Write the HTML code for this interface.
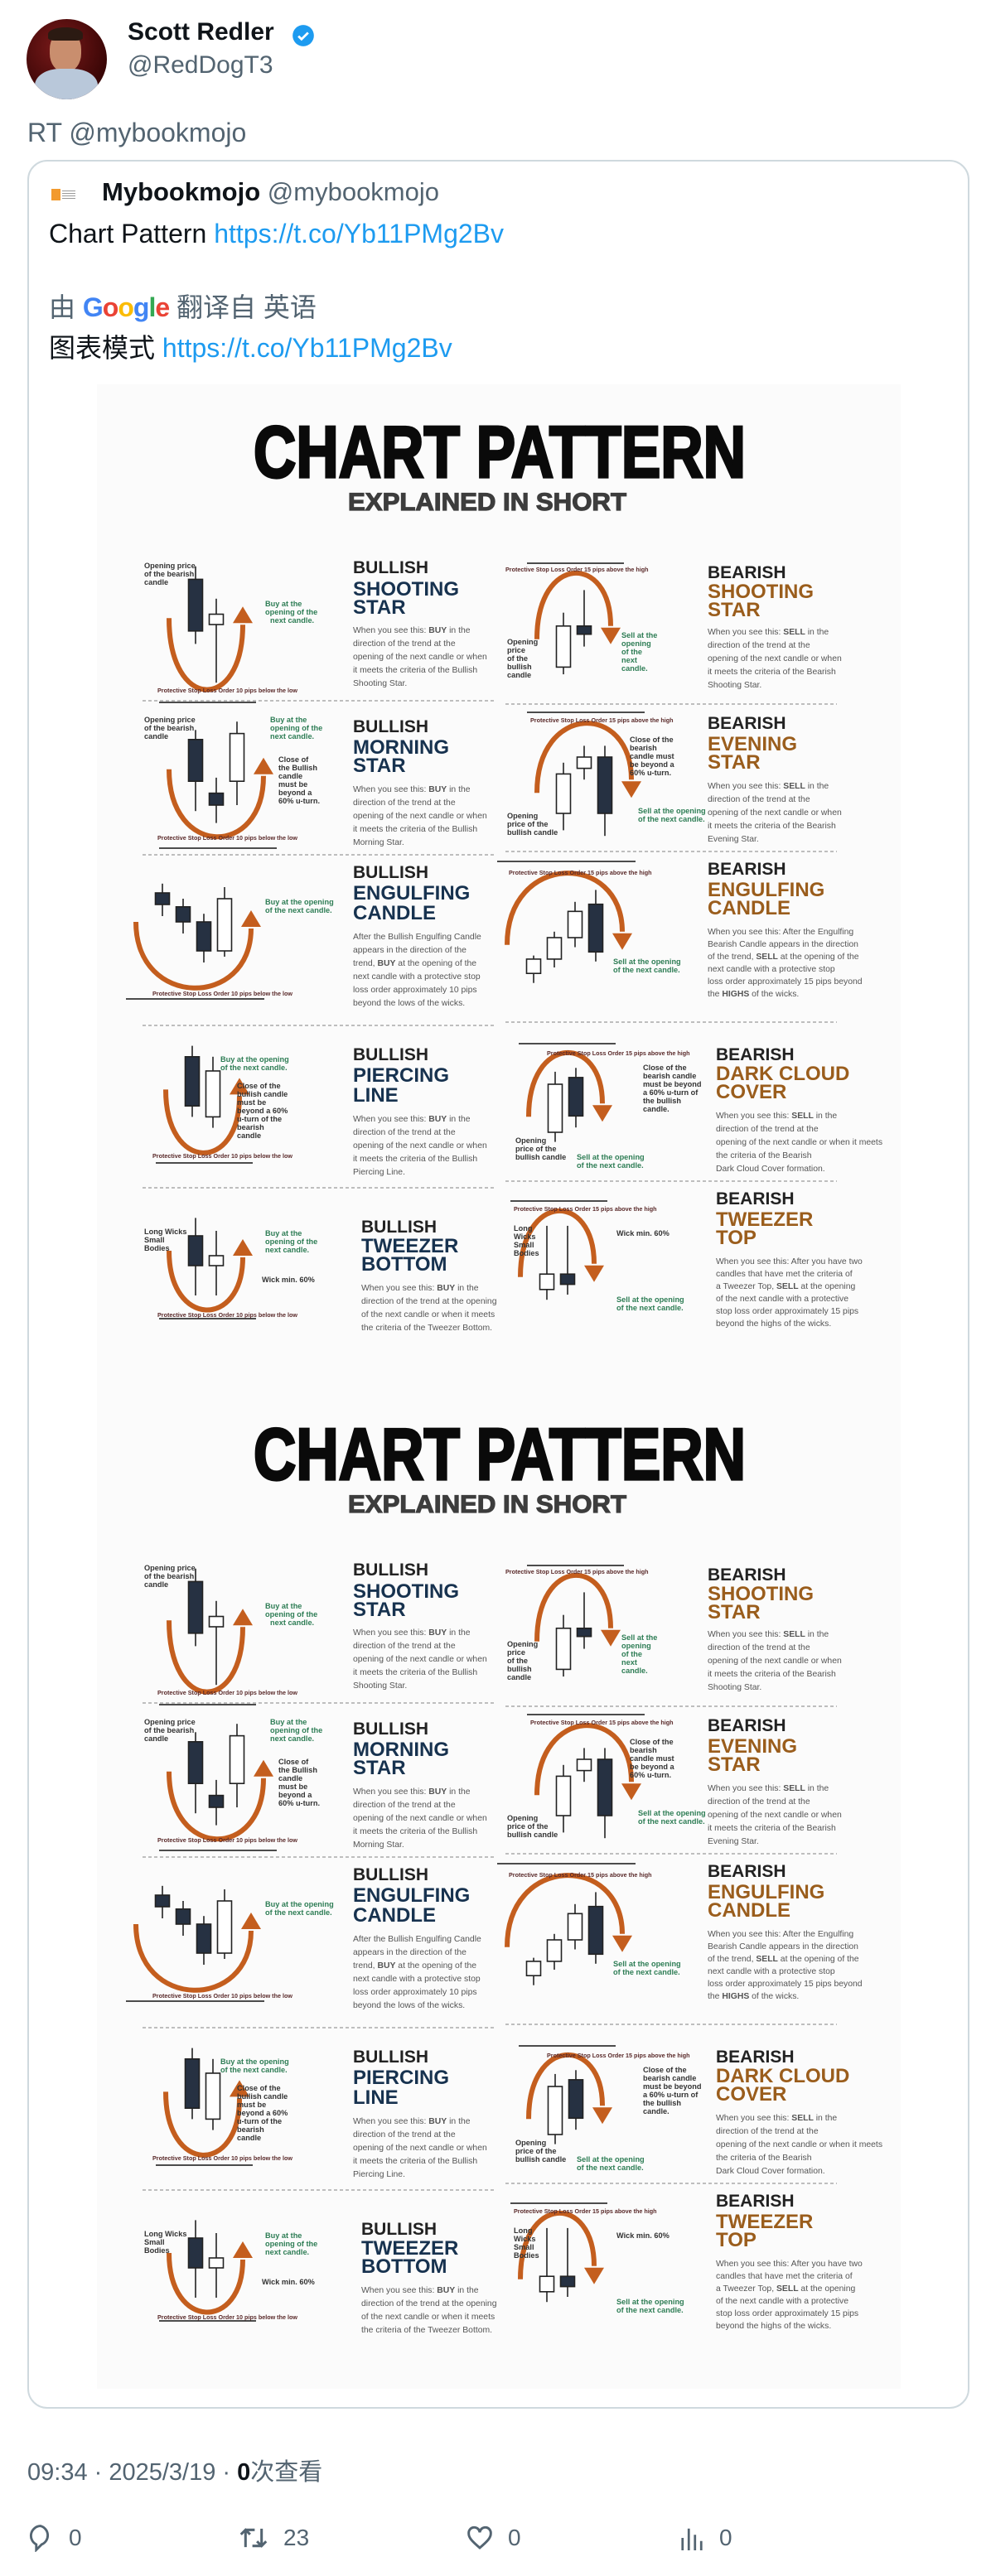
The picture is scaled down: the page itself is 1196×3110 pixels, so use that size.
<!DOCTYPE html>
<html>
<head>
<meta charset="utf-8">
<style>
html,body{margin:0;padding:0;background:#fff;}
body{width:1196px;height:3110px;position:relative;overflow:hidden;font-family:"Liberation Sans","Noto Sans CJK SC",sans-serif;}
.abs{position:absolute;white-space:nowrap;}
.gray{color:#536471;}
.link{color:#1d9bf0;}
.h{font:bold 10.5px "Liberation Sans",sans-serif;fill:#222;}
.tb{font:bold 12px "Liberation Sans",sans-serif;fill:#17324f;}
.tr{font:bold 12px "Liberation Sans",sans-serif;fill:#9a5d1c;}
.bd{font:5.2px "Liberation Sans",sans-serif;fill:#555;}
.lb{font:bold 4.6px "Liberation Sans",sans-serif;fill:#333;}
.lg{font:bold 4.6px "Liberation Sans",sans-serif;fill:#2e7d55;}
.ls{font:bold 3.6px "Liberation Sans",sans-serif;fill:#5a2a2a;}
.dash{stroke:#aaa;stroke-width:0.8;stroke-dasharray:2 1.5;}
</style>
</head>
<body>
<div class="abs" style="left:32px;top:23px;width:97px;height:97px;border-radius:50%;overflow:hidden;background:radial-gradient(circle at 40% 35%,#7a1a1a,#3a0606 70%);">
  <div style="position:absolute;left:28px;top:14px;width:38px;height:50px;border-radius:45%;background:#c98e6e;"></div>
  <div style="position:absolute;left:26px;top:10px;width:42px;height:16px;border-radius:50% 50% 20% 20%;background:#2b1a12;"></div>
  <div style="position:absolute;left:10px;top:60px;width:76px;height:50px;border-radius:40% 40% 0 0;background:#b9c8da;"></div>
</div>
<div class="abs" style="left:154px;top:22px;font-size:30px;font-weight:bold;color:#0f1419;">Scott Redler</div>
<svg class="abs" style="left:352px;top:29px" width="28" height="28" viewBox="0 0 24 24"><circle cx="12" cy="12" r="11" fill="#1d9bf0"/><path d="M7 12.5l3.2 3.2L17 9" stroke="#fff" stroke-width="2.4" fill="none"/></svg>
<div class="abs gray" style="left:154px;top:62px;font-size:30px;">@RedDogT3</div>
<div class="abs gray" style="left:33px;top:142px;font-size:32px;">RT @mybookmojo</div>

<div class="abs" style="left:33px;top:193px;width:1133px;height:2711px;border:2px solid #cfd9de;border-radius:24px;"></div>
<div class="abs" style="left:62px;top:228px;width:31px;height:14px;">
  <div style="position:absolute;left:0;top:0;width:11px;height:14px;background:#f29a2e;"></div>
  <div style="position:absolute;left:13px;top:2px;width:16px;height:10px;background:repeating-linear-gradient(#999 0 1px,#fff 1px 3px);"></div>
</div>
<div class="abs" style="left:123px;top:214px;font-size:31px;"><b style="color:#0f1419">Mybookmojo</b> <span class="gray">@mybookmojo</span></div>
<div class="abs" style="left:59px;top:264px;font-size:32px;color:#0f1419;">Chart Pattern <span class="link">https://t.co/Yb11PMg2Bv</span></div>
<div class="abs gray" style="left:59px;top:346px;font-size:32px;">由 <span style="font-weight:bold;letter-spacing:-1px"><span style="color:#4285f4">G</span><span style="color:#ea4335">o</span><span style="color:#fbbc05">o</span><span style="color:#4285f4">g</span><span style="color:#34a853">l</span><span style="color:#ea4335">e</span></span> 翻译自 英语</div>
<div class="abs" style="left:59px;top:395px;font-size:32px;color:#0f1419;">图表模式 <span class="link">https://t.co/Yb11PMg2Bv</span></div>

<div id="info1" class="abs" style="left:117px;top:464px;width:970px;height:1210px;background:#fbfbfb;">
<svg id="infosvg" width="970" height="1210" viewBox="58.5 232 485 605">
 <text x="153" y="288" textLength="297" lengthAdjust="spacingAndGlyphs" style="font:bold 44px 'Liberation Sans',sans-serif;fill:#0a0a0a;stroke:#0a0a0a;stroke-width:1.6">CHART PATTERN</text>
 <text x="210" y="308" textLength="168" lengthAdjust="spacingAndGlyphs" style="font:bold 15px 'Liberation Sans',sans-serif;fill:#3d3d3d;stroke:#3d3d3d;stroke-width:0.6">EXPLAINED IN SHORT</text>

 <g id="diagrams"></g>

 <line class="dash" x1="86" y1="423" x2="298" y2="423"/>
 <line class="dash" x1="86" y1="516" x2="298" y2="516"/>
 <line class="dash" x1="86" y1="619" x2="298" y2="619"/>
 <line class="dash" x1="86" y1="717" x2="298" y2="717"/>
 <line class="dash" x1="305" y1="425" x2="505" y2="425"/>
 <line class="dash" x1="305" y1="514" x2="505" y2="514"/>
 <line class="dash" x1="305" y1="617" x2="505" y2="617"/>
 <line class="dash" x1="305" y1="713" x2="505" y2="713"/>

 <g>
 <text class="h" x="213" y="346">BULLISH</text>
 <text class="tb" x="213" y="359.5">SHOOTING</text><text class="tb" x="213" y="370.5">STAR</text>
 <text class="bd" x="213" y="382">When you see this: <tspan font-weight="bold">BUY</tspan> in the</text>
 <text class="bd" x="213" y="390">direction of the trend at the</text>
 <text class="bd" x="213" y="398">opening of the next candle or when</text>
 <text class="bd" x="213" y="406">it meets the criteria of the Bullish</text>
 <text class="bd" x="213" y="414">Shooting Star.</text>
 </g>
 <g>
 <text class="h" x="427" y="349">BEARISH</text>
 <text class="tr" x="427" y="361">SHOOTING</text><text class="tr" x="427" y="372">STAR</text>
 <text class="bd" x="427" y="383">When you see this: <tspan font-weight="bold">SELL</tspan> in the</text>
 <text class="bd" x="427" y="391">direction of the trend at the</text>
 <text class="bd" x="427" y="399">opening of the next candle or when</text>
 <text class="bd" x="427" y="407">it meets the criteria of the Bearish</text>
 <text class="bd" x="427" y="415">Shooting Star.</text>
 </g>
 <g>
 <text class="h" x="213" y="442">BULLISH</text>
 <text class="tb" x="213" y="455">MORNING</text><text class="tb" x="213" y="466">STAR</text>
 <text class="bd" x="213" y="478">When you see this: <tspan font-weight="bold">BUY</tspan> in the</text>
 <text class="bd" x="213" y="486">direction of the trend at the</text>
 <text class="bd" x="213" y="494">opening of the next candle or when</text>
 <text class="bd" x="213" y="502">it meets the criteria of the Bullish</text>
 <text class="bd" x="213" y="510">Morning Star.</text>
 </g>
 <g>
 <text class="h" x="427" y="440">BEARISH</text>
 <text class="tr" x="427" y="453">EVENING</text><text class="tr" x="427" y="464">STAR</text>
 <text class="bd" x="427" y="476">When you see this: <tspan font-weight="bold">SELL</tspan> in the</text>
 <text class="bd" x="427" y="484">direction of the trend at the</text>
 <text class="bd" x="427" y="492">opening of the next candle or when</text>
 <text class="bd" x="427" y="500">it meets the criteria of the Bearish</text>
 <text class="bd" x="427" y="508">Evening Star.</text>
 </g>
 <g>
 <text class="h" x="213" y="530">BULLISH</text>
 <text class="tb" x="213" y="543">ENGULFING</text><text class="tb" x="213" y="555">CANDLE</text>
 <text class="bd" x="213" y="567">After the Bullish Engulfing Candle</text>
 <text class="bd" x="213" y="575">appears in the direction of the</text>
 <text class="bd" x="213" y="583">trend, <tspan font-weight="bold">BUY</tspan> at the opening of the</text>
 <text class="bd" x="213" y="591">next candle with a protective stop</text>
 <text class="bd" x="213" y="599">loss order approximately 10 pips</text>
 <text class="bd" x="213" y="607">beyond the lows of the wicks.</text>
 </g>
 <g>
 <text class="h" x="427" y="528">BEARISH</text>
 <text class="tr" x="427" y="541">ENGULFING</text><text class="tr" x="427" y="552">CANDLE</text>
 <text class="bd" x="427" y="564">When you see this: After the Engulfing</text>
 <text class="bd" x="427" y="571.5">Bearish Candle appears in the direction</text>
 <text class="bd" x="427" y="579">of the trend, <tspan font-weight="bold">SELL</tspan> at the opening of the</text>
 <text class="bd" x="427" y="586.5">next candle with a protective stop</text>
 <text class="bd" x="427" y="594">loss order approximately 15 pips beyond</text>
 <text class="bd" x="427" y="601.5">the <tspan font-weight="bold">HIGHS</tspan> of the wicks.</text>
 </g>
 <g>
 <text class="h" x="213" y="640">BULLISH</text>
 <text class="tb" x="213" y="653">PIERCING</text><text class="tb" x="213" y="665">LINE</text>
 <text class="bd" x="213" y="677">When you see this: <tspan font-weight="bold">BUY</tspan> in the</text>
 <text class="bd" x="213" y="685">direction of the trend at the</text>
 <text class="bd" x="213" y="693">opening of the next candle or when</text>
 <text class="bd" x="213" y="701">it meets the criteria of the Bullish</text>
 <text class="bd" x="213" y="709">Piercing Line.</text>
 </g>
 <g>
 <text class="h" x="432" y="640">BEARISH</text>
 <text class="tr" x="432" y="652">DARK CLOUD</text><text class="tr" x="432" y="663">COVER</text>
 <text class="bd" x="432" y="675">When you see this: <tspan font-weight="bold">SELL</tspan> in the</text>
 <text class="bd" x="432" y="683">direction of the trend at the</text>
 <text class="bd" x="432" y="691">opening of the next candle or when it meets</text>
 <text class="bd" x="432" y="699">the criteria of the Bearish</text>
 <text class="bd" x="432" y="707">Dark Cloud Cover formation.</text>
 </g>
 <g>
 <text class="h" x="218" y="744">BULLISH</text>
 <text class="tb" x="218" y="756">TWEEZER</text><text class="tb" x="218" y="767">BOTTOM</text>
 <text class="bd" x="218" y="779">When you see this: <tspan font-weight="bold">BUY</tspan> in the</text>
 <text class="bd" x="218" y="787">direction of the trend at the opening</text>
 <text class="bd" x="218" y="795">of the next candle or when it meets</text>
 <text class="bd" x="218" y="803">the criteria of the Tweezer Bottom.</text>
 </g>
 <g>
 <text class="h" x="432" y="727">BEARISH</text>
 <text class="tr" x="432" y="740">TWEEZER</text><text class="tr" x="432" y="751">TOP</text>
 <text class="bd" x="432" y="763">When you see this: After you have two</text>
 <text class="bd" x="432" y="770.5">candles that have met the criteria of</text>
 <text class="bd" x="432" y="778">a Tweezer Top, <tspan font-weight="bold">SELL</tspan> at the opening</text>
 <text class="bd" x="432" y="785.5">of the next candle with a protective</text>
 <text class="bd" x="432" y="793">stop loss order approximately 15 pips</text>
 <text class="bd" x="432" y="800.5">beyond the highs of the wicks.</text>
 </g>

 <g>
 <text class="lb" x="87" y="343">Opening price</text><text class="lb" x="87" y="348">of the bearish</text><text class="lb" x="87" y="353">candle</text>
 <text class="lg" x="160" y="366">Buy at the</text><text class="lg" x="160" y="371">opening of the</text><text class="lg" x="163" y="376">next candle.</text>
 <text class="ls" x="95" y="418">Protective Stop Loss Order 10 pips below the low</text>
 <text class="ls" x="305" y="345">Protective Stop Loss Order 15 pips above the high</text>
 <text class="lb" x="306" y="389">Opening</text><text class="lb" x="306" y="394">price</text><text class="lb" x="306" y="399">of the</text><text class="lb" x="306" y="404">bullish</text><text class="lb" x="306" y="409">candle</text>
 <text class="lg" x="375" y="385">Sell at the</text><text class="lg" x="375" y="390">opening</text><text class="lg" x="375" y="395">of the</text><text class="lg" x="375" y="400">next</text><text class="lg" x="375" y="405">candle.</text>

 <text class="lb" x="87" y="436">Opening price</text><text class="lb" x="87" y="441">of the bearish</text><text class="lb" x="87" y="446">candle</text>
 <text class="lg" x="163" y="436">Buy at the</text><text class="lg" x="163" y="441">opening of the</text><text class="lg" x="163" y="446">next candle.</text>
 <text class="lb" x="168" y="460">Close of</text><text class="lb" x="168" y="465">the Bullish</text><text class="lb" x="168" y="470">candle</text><text class="lb" x="168" y="475">must be</text><text class="lb" x="168" y="480">beyond a</text><text class="lb" x="168" y="485">60% u-turn.</text>
 <text class="ls" x="95" y="507">Protective Stop Loss Order 10 pips below the low</text>
 <text class="ls" x="320" y="436">Protective Stop Loss Order 15 pips above the high</text>
 <text class="lb" x="380" y="448">Close of the</text><text class="lb" x="380" y="453">bearish</text><text class="lb" x="380" y="458">candle must</text><text class="lb" x="380" y="463">be beyond a</text><text class="lb" x="380" y="468">60% u-turn.</text>
 <text class="lb" x="306" y="494">Opening</text><text class="lb" x="306" y="499">price of the</text><text class="lb" x="306" y="504">bullish candle</text>
 <text class="lg" x="385" y="491">Sell at the opening</text><text class="lg" x="385" y="496">of the next candle.</text>

 <text class="lg" x="160" y="546">Buy at the opening</text><text class="lg" x="160" y="551">of the next candle.</text>
 <text class="ls" x="92" y="601">Protective Stop Loss Order 10 pips below the low</text>
 <text class="ls" x="307" y="528">Protective Stop Loss Order 15 pips above the high</text>
 <text class="lg" x="370" y="582">Sell at the opening</text><text class="lg" x="370" y="587">of the next candle.</text>

 <text class="lg" x="133" y="641">Buy at the opening</text><text class="lg" x="133" y="646">of the next candle.</text>
 <text class="lb" x="143" y="657">Close of the</text><text class="lb" x="143" y="662">bullish candle</text><text class="lb" x="143" y="667">must be</text><text class="lb" x="143" y="672">beyond a 60%</text><text class="lb" x="143" y="677">u-turn of the</text><text class="lb" x="143" y="682">bearish</text><text class="lb" x="143" y="687">candle</text>
 <text class="ls" x="92" y="699">Protective Stop Loss Order 10 pips below the low</text>
 <text class="ls" x="330" y="637">Protective Stop Loss Order 15 pips above the high</text>
 <text class="lb" x="388" y="646">Close of the</text><text class="lb" x="388" y="651">bearish candle</text><text class="lb" x="388" y="656">must be beyond</text><text class="lb" x="388" y="661">a 60% u-turn of</text><text class="lb" x="388" y="666">the bullish</text><text class="lb" x="388" y="671">candle.</text>
 <text class="lb" x="311" y="690">Opening</text><text class="lb" x="311" y="695">price of the</text><text class="lb" x="311" y="700">bullish candle</text>
 <text class="lg" x="348" y="700">Sell at the opening</text><text class="lg" x="348" y="705">of the next candle.</text>

 <text class="lb" x="87" y="745">Long Wicks</text><text class="lb" x="87" y="750">Small</text><text class="lb" x="87" y="755">Bodies</text>
 <text class="lg" x="160" y="746">Buy at the</text><text class="lg" x="160" y="751">opening of the</text><text class="lg" x="160" y="756">next candle.</text>
 <text class="lb" x="158" y="774">Wick min. 60%</text>
 <text class="ls" x="95" y="795">Protective Stop Loss Order 10 pips below the low</text>
 <text class="ls" x="310" y="731">Protective Stop Loss Order 15 pips above the high</text>
 <text class="lb" x="310" y="743">Long</text><text class="lb" x="310" y="748">Wicks</text><text class="lb" x="310" y="753">Small</text><text class="lb" x="310" y="758">Bodies</text>
 <text class="lb" x="372" y="746">Wick min. 60%</text>
 <text class="lg" x="372" y="786">Sell at the opening</text><text class="lg" x="372" y="791">of the next candle.</text>
 </g>
</svg>
</div>
<div id="info2" class="abs" style="left:117px;top:1674px;width:970px;height:1210px;background:#fbfbfb;"></div>

<div class="abs gray" style="left:33px;top:2961px;font-size:29px;">09:34 · 2025/3/19 · <b style="color:#0f1419">0</b>次查看</div>

<div class="abs gray" style="left:33px;top:3047px;font-size:28px;display:flex;align-items:center;gap:18px;">
 <svg width="32" height="34" viewBox="0 0 24 26"><path d="M12 2a9 9 0 0 0-4 17v5l5-5a9 9 0 0 0-1-17z" fill="none" stroke="#536471" stroke-width="2.2"/></svg><span>0</span></div>
<div class="abs gray" style="left:288px;top:3047px;font-size:28px;display:flex;align-items:center;gap:18px;">
 <svg width="36" height="34" viewBox="0 0 26 24"><path d="M6 20V5M2 9l4-4 4 4M6 5h8M20 4v15M16 15l4 4 4-4M20 19h-8" fill="none" stroke="#536471" stroke-width="2.2"/></svg><span>23</span></div>
<div class="abs gray" style="left:563px;top:3047px;font-size:28px;display:flex;align-items:center;gap:18px;">
 <svg width="32" height="34" viewBox="0 0 24 24"><path d="M12 21C5 15 2 12 2 8a5 5 0 0 1 10-1 5 5 0 0 1 10 1c0 4-3 7-10 13z" fill="none" stroke="#536471" stroke-width="2.2"/></svg><span>0</span></div>
<div class="abs gray" style="left:820px;top:3047px;font-size:28px;display:flex;align-items:center;gap:18px;">
 <svg width="30" height="34" viewBox="0 0 24 26"><path d="M3 25V13M9 25V4M15 25V10M21 25V16" stroke="#536471" stroke-width="2.2"/></svg><span>0</span></div>

<script>
// OHLC values (0..100) per pattern
const bullShootingStar = [[85,95,35,45],[50,70,5,58]];
const bearShootingStar = [[15,68,8,55],[55,90,35,47]];
const morningStar = [[80,88,20,45],[35,48,10,25],[45,95,25,85]];
const eveningStar = [[25,70,10,60],[65,85,55,75],[75,85,5,25]];
const bullEngulfing = [[80,88,60,70],[68,75,45,55],[55,62,20,30],[30,85,25,75]];
const bearEngulfing = [[20,35,12,32],[32,55,25,50],[50,80,42,72],[78,90,30,38]];
const piercingLine = [[85,95,30,40],[30,85,20,72]];
const darkCloud = [[25,88,15,75],[82,92,30,42]];
const tweezerBottom = [[70,88,10,40],[40,75,10,50]];
const tweezerTop = [[30,92,20,45],[45,92,25,35]];

const patterns = [bullShootingStar,bearShootingStar,morningStar,eveningStar,bullEngulfing,bearEngulfing,piercingLine,darkCloud,tweezerBottom,tweezerTop];
const patternNames = ['bullish-shooting-star','bearish-shooting-star','morning-star','evening-star','bullish-engulfing','bearish-engulfing','piercing-line','dark-cloud-cover','tweezer-bottom','tweezer-top'];
const boxes = [[118,338,78],[340,350,62],[118,432,72],[340,440,68],[98,525,70],[322,530,72],[116,628,66],[335,640,58],[118,728,60],[330,735,62]];
const bullishFlags = [1,0,1,0,1,0,1,0,1,0];

const NS='http://www.w3.org/2000/svg';
function mk(tag,attrs){const e=document.createElementNS(NS,tag);for(const k in attrs)e.setAttribute(k,attrs[k]);return e;}
const root=document.getElementById('diagrams');
patterns.forEach((cs,pi)=>{
  const [bx,by,bh]=boxes[pi];
  const bull=bullishFlags[pi];
  const g=mk('g',{});
  
  
  const y=v=>by+bh-(v/100)*bh;
  const step=12.5, w=8.5;
  const n=cs.length;
  const cx0=bx, span=(n-1)*step;
  const L=cx0-16, R=cx0+span+16;
  let d, ax, ay, dir;
  if(bull){
    const top=by+bh*0.45, bot=by+bh+4;
    d=`M${L} ${top} C ${L} ${bot+10}, ${R} ${bot+10}, ${R} ${top+4}`;
    ax=R; ay=top-4; dir=-1;
  } else {
    const top=by-6, bot=by+bh*0.45;
    d=`M${L} ${bot+8} C ${L} ${top-10}, ${R} ${top-10}, ${R} ${bot}`;
    ax=R; ay=bot+8; dir=1;
  }
  const arc=mk('path',{d:d,fill:'none',stroke:'#c45e1e','stroke-width':3});
  
  
  g.appendChild(arc);
  const head=mk('path',{d:`M${ax-6} ${ay-dir*7} L${ax+6} ${ay-dir*7} L${ax} ${ay+dir*3} Z`,fill:'#c45e1e'});
  
  
  g.appendChild(head);
  const ly=bull? by+bh+8 : by-10;
  const sl=mk('line',{x1:L-6,y1:ly,x2:R+8,y2:ly,stroke:'#333','stroke-width':0.9});
  
  
  g.appendChild(sl);
  cs.forEach((c,i)=>{
    const [o,h,l,cl]=c;
    const x=cx0+i*step;
    const dark=cl<o;
    const wick=mk('line',{x1:x,y1:y(h),x2:x,y2:y(l),stroke:'#222','stroke-width':0.8});
    
    
    g.appendChild(wick);
    const t=y(Math.max(o,cl)), b=y(Math.min(o,cl));
    const body=mk('rect',{x:x-w/2,y:t,width:w,height:Math.max(b-t,1.5),fill:dark?'#263142':'#fff',stroke:'#222','stroke-width':0.8});
    
    
    g.appendChild(body);
  });
  root.appendChild(g);
});
const clone=document.getElementById('infosvg').cloneNode(true);
clone.removeAttribute('id');
document.getElementById('info2').appendChild(clone);
</script>
</body>
</html>
